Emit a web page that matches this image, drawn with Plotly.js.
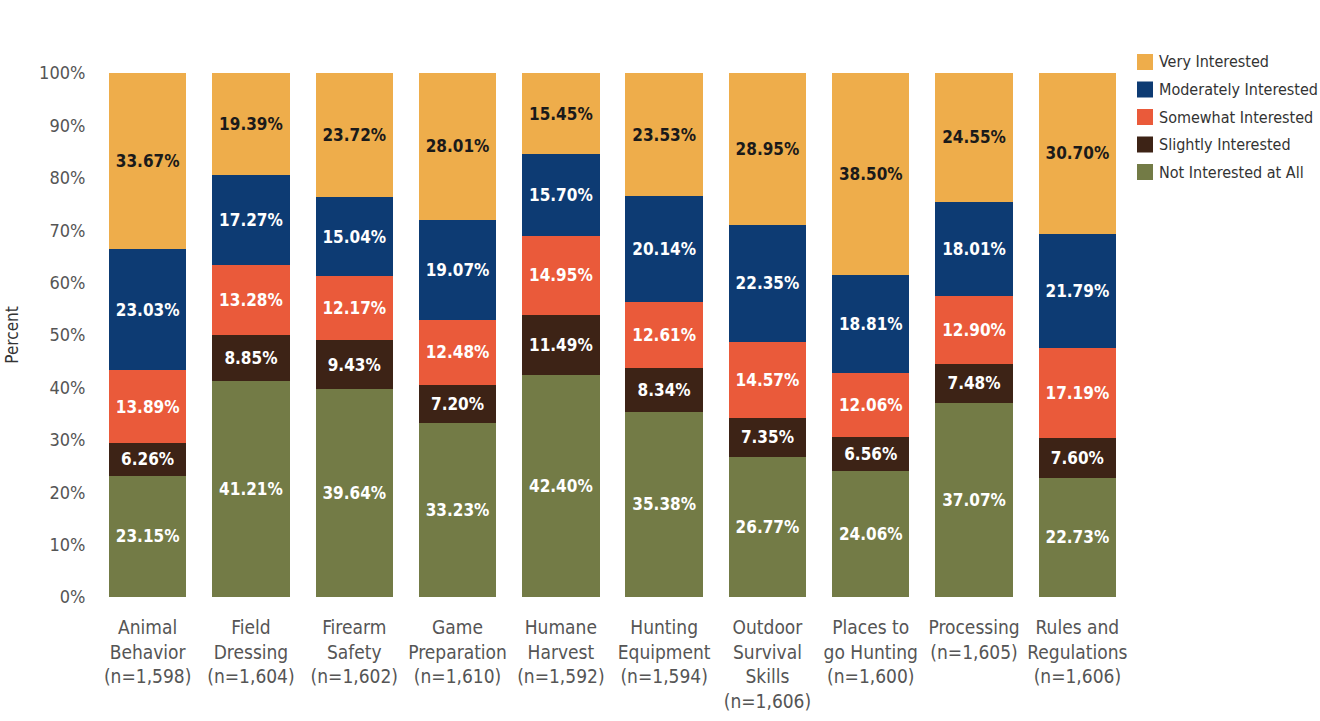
<!DOCTYPE html>
<html><head><meta charset="utf-8">
<script src="https://cdn.plot.ly/plotly-3.0.1.min.js"></script>
<style>html,body{margin:0;padding:0;background:#fff;}#chart{width:1320px;height:721px;}</style>
</head><body><div id="chart"></div>
<script>
const categories = [
  "Animal<br>Behavior<br>(n=1,598)",
  "Field<br>Dressing<br>(n=1,604)",
  "Firearm<br>Safety<br>(n=1,602)",
  "Game<br>Preparation<br>(n=1,610)",
  "Humane<br>Harvest<br>(n=1,592)",
  "Hunting<br>Equipment<br>(n=1,594)",
  "Outdoor<br>Survival<br>Skills<br>(n=1,606)",
  "Places to<br>go Hunting<br>(n=1,600)",
  "Processing<br>(n=1,605)",
  "Rules and<br>Regulations<br>(n=1,606)"
];
const notInterested      = [23.15, 41.21, 39.64, 33.23, 42.40, 35.38, 26.77, 24.06, 37.07, 22.73];
const slightlyInterested = [6.26, 8.85, 9.43, 7.20, 11.49, 8.34, 7.35, 6.56, 7.48, 7.60];
const somewhatInterested = [13.89, 13.28, 12.17, 12.48, 14.95, 12.61, 14.57, 12.06, 12.90, 17.19];
const moderatelyInterested = [23.03, 17.27, 15.04, 19.07, 15.70, 20.14, 22.35, 18.81, 18.01, 21.79];
const veryInterested     = [33.67, 19.39, 23.72, 28.01, 15.45, 23.53, 28.95, 38.50, 24.55, 30.70];

const FONT = "'DejaVu Sans Condensed', 'Liberation Sans Narrow', sans-serif";
const series = [
  {name: "Not Interested at All", y: notInterested, color: "#737B46", tc: "#ffffff"},
  {name: "Slightly Interested", y: slightlyInterested, color: "#3D2316", tc: "#ffffff"},
  {name: "Somewhat Interested", y: somewhatInterested, color: "#EA5A3A", tc: "#ffffff"},
  {name: "Moderately Interested", y: moderatelyInterested, color: "#0D3B73", tc: "#ffffff"},
  {name: "Very Interested", y: veryInterested, color: "#EEAD4B", tc: "#1a1a1a"}
];
const data = series.map(s => ({
  type: "bar", name: s.name, x: categories, y: s.y,
  marker: {color: s.color, line: {width: 0}},
  texttemplate: "%{y:.2f}%", textposition: "inside", insidetextanchor: "middle",
  constraintext: "none", textangle: 0,
  textfont: {family: FONT, size: 17, color: s.tc, weight: "bold"},
  hoverinfo: "none", showlegend: false
}));

// Manual legend placed to the right of the plot
const W = 1320, H = 721, ML = 96, MR = 191, MT = 73, MB = 124;
const PW = W - ML - MR, PH = H - MT - MB;
const px2x = p => (p - ML) / PW;
const px2y = p => (H - MB - p) / PH;
const legendOrder = series.slice().reverse();
const shapes = [], annotations = [];
legendOrder.forEach((s, i) => {
  const cy = 62 + i * 27.5;
  shapes.push({type: "rect", xref: "paper", yref: "paper", xsizemode: "pixel", ysizemode: "pixel",
    xanchor: px2x(1137), yanchor: px2y(cy), x0: 0, x1: 16, y0: -8, y1: 8,
    fillcolor: s.color, line: {width: 0}});
  annotations.push({xref: "paper", yref: "paper", x: px2x(1157), y: px2y(cy), xanchor: "left", yanchor: "middle",
    text: s.name, showarrow: false, font: {family: FONT, size: 16, color: "#333"}});
});

const layout = {
  width: W, height: H,
  margin: {l: ML, r: MR, t: MT, b: MB},
  barmode: "stack", bargap: 0.25,
  paper_bgcolor: "#fff", plot_bgcolor: "#fff",
  font: {family: FONT, color: "#555"},
  showlegend: false,
  shapes: shapes, annotations: annotations,
  xaxis: {tickfont: {family: FONT, size: 19, color: "#555"}, showline: false, ticks: "outside",
          ticklen: 13, tickcolor: "rgba(0,0,0,0)", showgrid: false, tickangle: 0},
  yaxis: {range: [0, 100], dtick: 10, ticksuffix: "%", showgrid: false, zeroline: false, showline: false,
          tickfont: {family: FONT, size: 18, color: "#555"}, ticks: "outside", ticklen: 6, tickcolor: "rgba(0,0,0,0)",
          title: {text: "Percent", font: {family: FONT, size: 17, color: "#333"}, standoff: 16}}
};
Plotly.newPlot("chart", data, layout, {displayModeBar: false, staticPlot: true});
</script></body></html>
